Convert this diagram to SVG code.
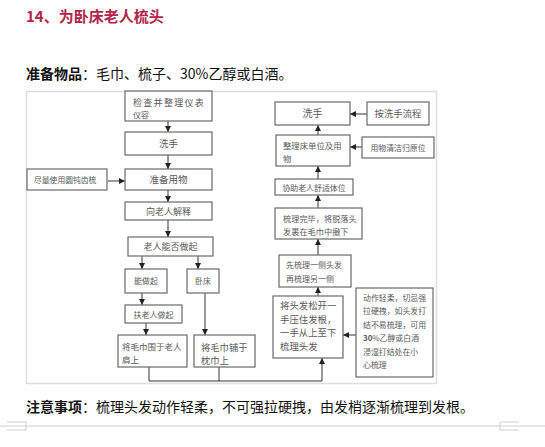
<svg xmlns="http://www.w3.org/2000/svg" width="545" height="447" viewBox="0 0 545 447">
<defs>
<style>
.bg{fill:#fff}
.frame{fill:#fff;stroke:#dedede;stroke-width:1.5}
.box{fill:#fff;stroke:#6a6a6a;stroke-width:1.2}
.t{font-family:"Noto Sans CJK SC","Liberation Serif",serif;fill:#5a5a5a}
.c{text-anchor:middle}
.ln{fill:none;stroke:#333;stroke-width:1}
.main{font-family:"Noto Sans CJK SC","Liberation Sans",sans-serif;fill:#111;font-size:14px}
.rule{fill:none;stroke:#cfcfcf;stroke-width:1}
</style>
<marker id="ah" markerUnits="userSpaceOnUse" markerWidth="6" markerHeight="6" refX="6" refY="3" orient="auto">
<path d="M0,0 L6,3 L0,6 z" fill="#222"/>
</marker>
</defs>
<rect class="bg" x="0" y="0" width="545" height="447"/>
<g id="title">
<text x="26" y="22" font-family="'Noto Sans CJK SC','Liberation Sans',sans-serif" font-size="15" font-weight="700" fill="#b3244c">14、为卧床老人梳头</text>
</g>
<g id="materials">
<text class="main" x="26" y="79"><tspan font-weight="700">准备物品</tspan>：毛巾、梳子、30%乙醇或白酒。</text>
</g>
<rect class="frame" x="26.5" y="91.5" width="410" height="292"/>
<g id="connectors">
<line class="ln" x1="168" y1="121" x2="168" y2="132" marker-end="url(#ah)"/>
<line class="ln" x1="168" y1="155" x2="168" y2="169" marker-end="url(#ah)"/>
<line class="ln" x1="108" y1="181" x2="125" y2="181" marker-end="url(#ah)"/>
<line class="ln" x1="168" y1="190" x2="168" y2="202" marker-end="url(#ah)"/>
<line class="ln" x1="168" y1="220" x2="168" y2="237" marker-end="url(#ah)"/>
<line class="ln" x1="142" y1="256" x2="142" y2="269" marker-end="url(#ah)"/>
<line class="ln" x1="198" y1="256" x2="198" y2="269" marker-end="url(#ah)"/>
<line class="ln" x1="142" y1="293" x2="142" y2="305" marker-end="url(#ah)"/>
<line class="ln" x1="146" y1="323" x2="146" y2="335" marker-end="url(#ah)"/>
<line class="ln" x1="205" y1="293" x2="205" y2="335" marker-end="url(#ah)"/>
<polyline class="ln" points="149,367 149,381 322,381 322,358" marker-end="url(#ah)"/>
<line class="ln" x1="219" y1="367" x2="219" y2="381"/>
<line class="ln" x1="318" y1="296" x2="318" y2="287" marker-end="url(#ah)"/>
<line class="ln" x1="356" y1="335" x2="343" y2="335" marker-end="url(#ah)"/>
<line class="ln" x1="318" y1="255" x2="318" y2="239" marker-end="url(#ah)"/>
<line class="ln" x1="318" y1="208" x2="318" y2="195" marker-end="url(#ah)"/>
<line class="ln" x1="318" y1="179" x2="318" y2="166" marker-end="url(#ah)"/>
<line class="ln" x1="362" y1="147" x2="350" y2="147" marker-end="url(#ah)"/>
<line class="ln" x1="318" y1="135" x2="318" y2="125" marker-end="url(#ah)"/>
<line class="ln" x1="367" y1="114" x2="350" y2="114" marker-end="url(#ah)"/>
</g>
<g id="n-check">
<rect class="box" x="125" y="91" width="87" height="30"/>
<text class="t" x="133" y="106" font-size="9" letter-spacing="1.3">检查并整理仪表</text>
<text class="t" x="133" y="118" font-size="8">仪容</text>
</g>
<g id="n-wash1">
<rect class="box" x="125" y="132" width="87" height="23"/>
<text class="t c" x="168.5" y="147" font-size="9.5">洗手</text>
</g>
<g id="n-prepare">
<rect class="box" x="125" y="169" width="87" height="21"/>
<text class="t c" x="168.5" y="183" font-size="9.5">准备用物</text>
</g>
<g id="n-comb">
<rect class="box" x="27" y="169" width="80" height="21"/>
<text class="t" x="34" y="183" font-size="7.8">尽量使用圆钝齿梳</text>
</g>
<g id="n-explain">
<rect class="box" x="125" y="202" width="87" height="18"/>
<text class="t c" x="168.5" y="214.5" font-size="9">向老人解释</text>
</g>
<g id="n-cansit">
<rect class="box" x="128" y="237" width="85" height="19"/>
<text class="t c" x="170.5" y="250" font-size="9">老人能否做起</text>
</g>
<g id="n-yes">
<rect class="box" x="125" y="269" width="42" height="24"/>
<text class="t c" x="146" y="284" font-size="8">能做起</text>
</g>
<g id="n-bed">
<rect class="box" x="187" y="269" width="32" height="24"/>
<text class="t c" x="203" y="284" font-size="8">卧床</text>
</g>
<g id="n-help">
<rect class="box" x="125" y="305" width="57" height="18"/>
<text class="t c" x="153.5" y="317.5" font-size="8">扶老人做起</text>
</g>
<g id="n-shoulder">
<rect class="box" x="118" y="335" width="69" height="32"/>
<text class="t" x="122" y="350" font-size="8.5">将毛巾围于老人</text>
<text class="t" x="122" y="362.5" font-size="8.5">肩上</text>
</g>
<g id="n-pillow">
<rect class="box" x="194" y="335" width="61" height="32"/>
<text class="t" x="201" y="351" font-size="9.3">将毛巾铺于</text>
<text class="t" x="201" y="364" font-size="9.3">枕巾上</text>
</g>
<g id="n-wash2">
<rect class="box" x="275" y="102" width="75" height="23"/>
<text class="t c" x="312.5" y="117" font-size="10">洗手</text>
</g>
<g id="n-washproc">
<rect class="box" x="367" y="102" width="62" height="23"/>
<text class="t c" x="398" y="117" font-size="9.4">按洗手流程</text>
</g>
<g id="n-tidy">
<rect class="box" x="276" y="135" width="74" height="31"/>
<text class="t" x="283" y="149" font-size="8.4">整理床单位及用</text>
<text class="t" x="283" y="162" font-size="8.4">物</text>
</g>
<g id="n-clean">
<rect class="box" x="362" y="137" width="72" height="21"/>
<text class="t c" x="398" y="151" font-size="7.9">用物清洁归原位</text>
</g>
<g id="n-comfort">
<rect class="box" x="275" y="179" width="78" height="16"/>
<text class="t c" x="314" y="190.5" font-size="7.9">协助老人舒适体位</text>
</g>
<g id="n-done">
<rect class="box" x="275" y="208" width="87" height="31"/>
<text class="t" x="283" y="222" font-size="8.2">梳理完毕，将脱落头</text>
<text class="t" x="283" y="235" font-size="8.2">发裹在毛巾中撤下</text>
</g>
<g id="n-side">
<rect class="box" x="279" y="255" width="72" height="32"/>
<text class="t" x="286" y="268" font-size="8">先梳理一侧头发</text>
<text class="t" x="286" y="282" font-size="8">再梳理另一侧</text>
</g>
<g id="n-loosen">
<rect class="box" x="273" y="296" width="70" height="62"/>
<text class="t" font-size="9.4"><tspan x="280" y="309">将头发松开一</tspan><tspan x="280" y="322.5">手压住发根，</tspan><tspan x="280" y="336">一手从上至下</tspan><tspan x="280" y="349.5">梳理头发</tspan></text>
</g>
<g id="n-gentle">
<rect class="box" x="356" y="288" width="77" height="89"/>
<text class="t" font-size="7.9"><tspan x="363" y="301">动作轻柔，切忌强</tspan><tspan x="363" y="314">拉硬拽，如头发打</tspan><tspan x="363" y="327.5">结不易梳理，可用</tspan><tspan x="363" y="341"><tspan font-weight="700">30</tspan>%乙醇或白酒</tspan><tspan x="363" y="355">浸湿打结处在小</tspan><tspan x="363" y="368">心梳理</tspan></text>
</g>
<g id="notes">
<text class="main" x="26" y="412"><tspan font-weight="700">注意事项</tspan>：梳理头发动作轻柔，不可强拉硬拽，由发梢逐渐梳理到发根。</text>
</g>
<g id="rule">
<line class="rule" x1="0" y1="426" x2="545" y2="426"/>
<path class="rule" d="M7,422 H26 V430 H7"/>
<path class="rule" d="M519,422 H500 V430 H519"/>
</g>
</svg>
